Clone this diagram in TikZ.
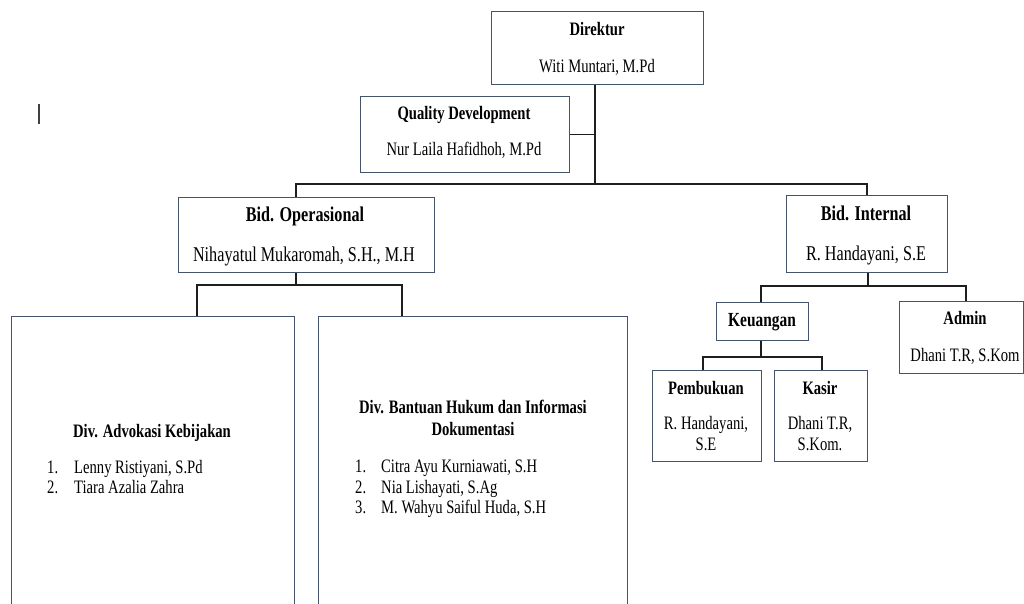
\documentclass[tikz,border=0pt]{standalone}
\usepackage{fontspec}
\setmainfont[FakeStretch=0.77]{Liberation Serif}
\definecolor{boxline}{RGB}{68,84,106}
\definecolor{conn}{RGB}{30,30,30}
\begin{document}
\begin{tikzpicture}[x=1pt,y=-1pt,
  box/.style={draw=boxline,line width=1.2pt,fill=white,inner sep=0pt,anchor=north west},
  txt/.style={inner sep=0pt,anchor=base,font=\fontsize{19}{22}\selectfont},
  ttl/.style={txt,font=\fontsize{19}{22}\selectfont\bfseries},
  btxt/.style={inner sep=0pt,anchor=base,font=\fontsize{21}{24}\selectfont},
  bttl/.style={btxt,font=\fontsize{21}{24}\selectfont\bfseries},
  lst/.style={inner sep=0pt,anchor=base west,font=\fontsize{19}{22}\selectfont},
  link/.style={draw=conn,line width=1.2pt}]
\clip (0,0) rectangle (1024,604);
\fill[white] (0,0) rectangle (1024,604);
% junction coordinates
\coordinate (j1) at (595,184);
\coordinate (dA) at (296,184);
\coordinate (dB) at (867,184);
\coordinate (j2) at (296,285);
\coordinate (dC) at (197,285);
\coordinate (dD) at (402,285);
\coordinate (j3) at (868,286);
\coordinate (dE) at (761,286);
\coordinate (dF) at (966,286);
\coordinate (j4) at (761,357);
\coordinate (dG) at (703,357);
\coordinate (dH) at (822,357);
% boxes
\node[box,minimum width=212pt,minimum height=73pt] (dir) at (491,11) {};
\node[box,minimum width=209pt,minimum height=76pt] (qd) at (360,96) {};
\node[box,minimum width=256pt,minimum height=75pt] (bop) at (178,197) {};
\node[box,minimum width=161pt,minimum height=77pt] (bin) at (786,195) {};
\node[box,minimum width=283pt,minimum height=300pt] (adv) at (11,316) {};
\node[box,minimum width=309pt,minimum height=300pt] (ban) at (318,316) {};
\node[box,minimum width=92pt,minimum height=38pt] (keu) at (716,302) {};
\node[box,minimum width=124pt,minimum height=72pt] (adm) at (899,301) {};
\node[box,minimum width=109pt,minimum height=91pt] (pem) at (652,370) {};
\node[box,minimum width=93pt,minimum height=91pt] (kas) at (774,370) {};
% connectors
\draw[link] (dir.south -| j1) -- (j1);
\draw[link] (qd.east) -- (qd.east -| j1);
\draw[link] (dA |- bop.north) -- (dA) -- (dB) -- (dB |- bin.north);
\draw[link] (j2 |- bop.south) -- (j2);
\draw[link] (dC |- adv.north) -- (dC) -- (dD) -- (dD |- ban.north);
\draw[link] (j3 |- bin.south) -- (j3);
\draw[link] (dE |- keu.north) -- (dE) -- (dF) -- (dF |- adm.north);
\draw[link] (j4 |- keu.south) -- (j4);
\draw[link] (dG |- pem.north) -- (dG) -- (dH) -- (dH |- kas.north);
% texts
\node[ttl] (dirT) at (597,35.5) {Direktur};
\node[txt] (dirN) at (597,73) {Witi Muntari, M.Pd};
\node[ttl] (qdT) at (464,120) {Quality Development};
\node[txt] (qdN) at (464,156) {Nur Laila Hafidhoh, M.Pd};
\node[bttl] (bopT) at (305,221.5) {Bid. Operasional};
\node[btxt] (bopN) at (304,261) {Nihayatul Mukaromah, S.H., M.H};
\node[bttl] (binT) at (866,220.5) {Bid. Internal};
\node[btxt] (binN) at (866,260) {R. Handayani, S.E};
\node[ttl,font=\fontsize{20}{22}\selectfont\bfseries] (keuT) at (762,326) {Keuangan};
\node[ttl] (admT) at (965,324) {Admin};
\node[txt] (admN) at (965,361) {Dhani T.R, S.Kom};
\node[ttl] (pemT) at (706,394) {Pembukuan};
\node[txt] (pemN1) at (706,429) {R. Handayani,};
\node[txt] (pemN2) at (706,450) {S.E};
\node[ttl] (kasT) at (820,394) {Kasir};
\node[txt] (kasN1) at (820,429) {Dhani T.R,};
\node[txt] (kasN2) at (820,450) {S.Kom.};
\node[ttl] (advT) at (152,437) {Div. Advokasi Kebijakan};
\node[lst] (adv1n) at (47,473) {1.};
\node[lst] (adv1) at (74,473) {Lenny Ristiyani, S.Pd};
\node[lst] (adv2n) at (47,493) {2.};
\node[lst] (adv2) at (74,493) {Tiara Azalia Zahra};
\node[ttl] (banT1) at (473,413) {Div. Bantuan Hukum dan Informasi};
\node[ttl] (banT2) at (473,435) {Dokumentasi};
\node[lst] (ban1n) at (355,472) {1.};
\node[lst] (ban1) at (381,472) {Citra Ayu Kurniawati, S.H};
\node[lst] (ban2n) at (355,493) {2.};
\node[lst] (ban2) at (381,493) {Nia Lishayati, S.Ag};
\node[lst] (ban3n) at (355,513) {3.};
\node[lst] (ban3) at (381,513) {M. Wahyu Saiful Huda, S.H};
% text cursor
\draw[line width=1.5pt,color=black!75] (39,104) -- (39,124);
\end{tikzpicture}
\end{document}
